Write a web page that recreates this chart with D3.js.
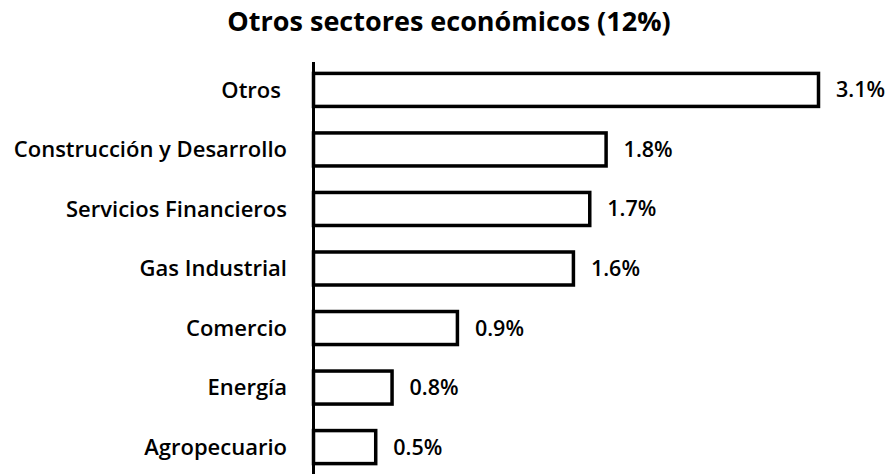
<!DOCTYPE html>
<html>
<head>
<meta charset="utf-8">
<script src="https://cdn.jsdelivr.net/npm/d3@7"></script>
<style>
	body { margin: 0; background: #fff; }
	svg { display: block; font-family: "Open Sans", Lato, sans-serif; }
</style>
</head>
<body>
<svg id="chart" width="890" height="474"></svg>
<script>
'use strict';

// sectors, top to bottom
var categories = [
	'Otros', 'Construcción y Desarrollo', 'Servicios Financieros',
	'Gas Industrial', 'Comercio', 'Energía', 'Agropecuario'
];
// printed value labels (%)
var values = [3.1, 1.8, 1.7, 1.6, 0.9, 0.8, 0.5];
// bar lengths as drawn in the source (last two bars are drawn shorter than printed)
var barValues = [3.1, 1.8, 1.7, 1.6, 0.89, 0.49, 0.39];
var title = 'Otros sectores económicos (12%)';

var svg = d3.select('#chart');

var axisX = 313.5;

var x = d3.scaleLinear()
	.domain([0, 3.1])
	.range([axisX, 820]);

var y = d3.scaleBand()
	.domain(categories)
	.range([60, 477])
	.paddingInner(0.395)
	.paddingOuter(0.2);

svg.append('text')
	.attr('x', 449)
	.attr('y', 31)
	.attr('text-anchor', 'middle')
	.attr('font-size', 27)
	.attr('font-weight', 'bold')
	.text(title);

var bars = svg.append('g');

bars.selectAll('rect')
	.data(categories)
	.enter()
	.append('rect')
	.attr('x', x(0))
	.attr('y', function(d) { return y(d) + 1.5; })
	.attr('width', function(d, i) { return x(barValues[i]) - x(0) - 1.5; })
	.attr('height', y.bandwidth() - 3)
	.attr('fill', '#fff')
	.attr('stroke', '#000')
	.attr('stroke-width', 3.5);

// category labels ('Otros' sits a little left of the others in the source)
svg.append('g')
	.selectAll('text')
	.data(categories)
	.enter()
	.append('text')
	.attr('x', function(d, i) { return i === 0 ? 281 : 287; })
	.attr('y', function(d) { return y(d) + y.bandwidth() / 2; })
	.attr('dy', '0.35em')
	.attr('text-anchor', 'end')
	.attr('font-size', 22)
	.attr('font-weight', 600)
	.text(function(d) { return d; });

// value labels
svg.append('g')
	.selectAll('text')
	.data(categories)
	.enter()
	.append('text')
	.attr('x', function(d, i) { return x(barValues[i]) + 16; })
	.attr('y', function(d) { return y(d) + y.bandwidth() / 2; })
	.attr('dy', '0.35em')
	.attr('font-size', 21.5)
	.attr('font-weight', 600)
	.text(function(d, i) { return values[i].toFixed(1) + '%'; });

// vertical axis line
svg.append('line')
	.attr('x1', axisX)
	.attr('x2', axisX)
	.attr('y1', 62)
	.attr('y2', 474)
	.attr('stroke', '#000')
	.attr('stroke-width', 3);
</script>
</body>
</html>
